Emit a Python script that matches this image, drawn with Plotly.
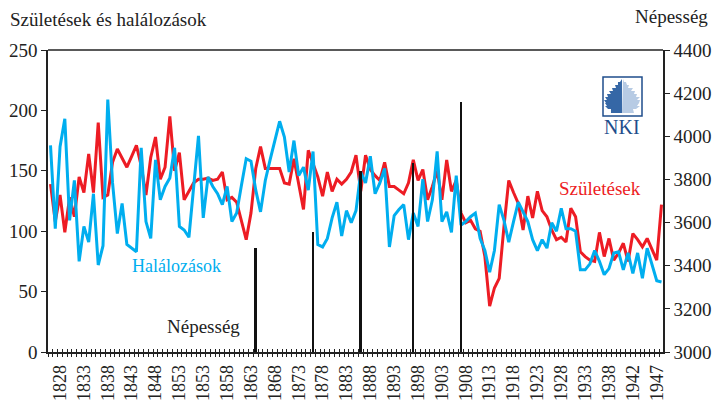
import plotly.graph_objects as go

# ---- data ----
SZULETESEK = [
    139, 108, 130, 99, 128, 112, 145, 132, 164, 132,
    190, 128, 130, 157, 168, 161, 153, 162, 171, 154,
    130, 161, 178, 143, 153, 195, 150, 165, 126, 133,
    140, 143, 143, 144, 142, 143, 149, 126, 128, 124,
    108, 93, 115, 152, 170, 152, 152, 152, 152, 140,
    139, 160, 140, 118, 167, 156, 145, 129, 149, 133,
    143, 139, 143, 149, 163, 133, 163, 151, 146, 142,
    157, 137, 137, 134, 131, 140, 159, 142, 151, 126,
    137, 150, 126, 159, 133, 142, 115, 107, 109, 102,
    100, 79, 38, 53, 61, 104, 142, 132, 123, 101,
    129, 111, 133, 117, 112, 101, 93, 95, 91, 119,
    112, 83, 79, 76, 75, 99, 79, 94, 76, 82,
    90, 75, 98, 93, 87, 94, 85, 76, 122,
]
HALALOZASOK = [
    171, 102, 170, 193, 109, 142, 75, 104, 91, 131,
    72, 88, 209, 140, 98, 123, 89, 86, 83, 169,
    108, 94, 159, 126, 137, 144, 169, 104, 101, 95,
    135, 179, 111, 145, 137, 131, 122, 137, 108, 115,
    138, 160, 158, 134, 116, 142, 159, 175, 191, 178,
    149, 175, 146, 153, 134, 166, 89, 87, 94, 111,
    124, 96, 117, 107, 117, 149, 140, 162, 131, 140,
    152, 87, 113, 118, 122, 93, 115, 104, 143, 108,
    126, 166, 108, 116, 99, 146, 105, 108, 112, 115,
    94, 84, 66, 84, 122, 109, 91, 108, 124, 116,
    108, 93, 84, 93, 86, 107, 100, 119, 102, 102,
    100, 68, 68, 73, 84, 75, 64, 69, 82, 83,
    68, 82, 65, 82, 61, 86, 72, 59, 58,
]
TICK_LABELS = [
    "1828", "1833", "1838", "1843", "1848", "1853", "1853", "1858", "1863",
    "1868", "1873", "1878", "1883", "1888", "1893", "1898", "1903", "1908",
    "1913", "1918", "1923", "1928", "1933", "1938", "1942", "1947",
]
NEPESSEG_POS = [43, 55, 65, 76, 86]
NEPESSEG = [3483, 3556, 3841, 3874, 4159]

# ---- styling ----
RED = "#ED1C24"
CYAN = "#00AEEF"
INK = "#222222"
FONT = "Liberation Serif"
NAVY = "#1F4E8C"

n = len(SZULETESEK)
xs = list(range(n))
tickvals = [2 + 5 * k for k in range(len(TICK_LABELS))]
bounds = [i - 0.5 for i in range(n + 1)]

L, R, T, B = 48, 663, 50, 352
step = (661.5 - 50.5) / (n - 1)
x_range = [-(50.5 - L) / step, (R - 50.5) / step]


def px(v):
    return (v - L) / (R - L)


def py(v):
    return (B - v) / (B - T)


fig = go.Figure()
fig.add_trace(go.Scatter(x=xs, y=SZULETESEK, mode="lines", name="Születések",
                         line=dict(color=RED, width=3), hoverinfo="skip"))
fig.add_trace(go.Scatter(x=xs, y=HALALOZASOK, mode="lines", name="Halálozások",
                         line=dict(color=CYAN, width=3), hoverinfo="skip"))
# helper trace so the overlaid tick axis is drawn
fig.add_trace(go.Scatter(x=xs, y=SZULETESEK, xaxis="x2", mode="lines",
                         opacity=0, showlegend=False, hoverinfo="skip"))
fig.add_trace(go.Bar(x=NEPESSEG_POS, y=NEPESSEG, yaxis="y2", width=0.38,
                     name="Népesség", marker=dict(color="#111111", line=dict(width=0)),
                     hoverinfo="skip"))

axis_font = dict(family=FONT, size=19, color=INK)

fig.update_layout(
    width=717, height=401, autosize=False,
    margin=dict(l=L, r=717 - R, t=T, b=401 - B, pad=0),
    paper_bgcolor="white", plot_bgcolor="white",
    showlegend=False, hovermode=False, bargap=0,
    font=dict(family=FONT, size=19, color=INK),
    xaxis=dict(
        range=x_range, showgrid=False, zeroline=False, automargin=False,
        showline=True, linecolor=INK, linewidth=1.5,
        tickmode="array", tickvals=tickvals, ticktext=TICK_LABELS,
        tickangle=-90, ticks="outside", ticklen=4, tickcolor="rgba(0,0,0,0)",
        tickfont=dict(family=FONT, size=18, color=INK),
        minor=dict(tickmode="array", tickvals=bounds, ticks="outside",
                   ticklen=3, tickcolor=INK, tickwidth=1, showgrid=False),
    ),
    xaxis2=dict(
        range=x_range, overlaying="x", anchor="y", side="bottom", automargin=False,
        showgrid=False, zeroline=False, showline=False,
        tickmode="array", tickvals=bounds, ticks="inside", ticklen=3,
        tickcolor=INK, tickwidth=1, showticklabels=False,
    ),
    yaxis=dict(
        range=[0, 250], tickmode="array", tickvals=[0, 50, 100, 150, 200, 250],
        showgrid=False, zeroline=False, showline=True, linecolor=INK, linewidth=1.5,
        ticks="outside", ticklen=5, tickcolor=INK, tickfont=axis_font, automargin=False,
    ),
    yaxis2=dict(
        range=[3000, 4400], overlaying="y", side="right", anchor="x",
        tickmode="linear", tick0=3000, dtick=200, automargin=False,
        showgrid=False, zeroline=False, showline=True, linecolor=INK, linewidth=1.5,
        ticks="outside", ticklen=5, tickcolor=INK, tickfont=axis_font,
    ),
)

# top frame line
fig.add_shape(type="line", xref="paper", yref="paper", x0=0, x1=1, y0=1, y1=1,
              line=dict(color=INK, width=1.5))

# axis titles and series labels
fig.add_annotation(text="Születések és halálozások", xref="paper", yref="paper",
                   x=px(8), y=py(19), xanchor="left", yanchor="middle",
                   showarrow=False, font=dict(family=FONT, size=19, color=INK))
fig.add_annotation(text="Népesség", xref="paper", yref="paper",
                   x=px(710), y=py(16), xanchor="right", yanchor="middle",
                   showarrow=False, font=dict(family=FONT, size=19, color=INK))
fig.add_annotation(text="Halálozások", xref="paper", yref="paper",
                   x=px(176), y=py(266), xanchor="center", yanchor="middle",
                   showarrow=False, font=dict(family=FONT, size=18, color=CYAN))
fig.add_annotation(text="Születések", xref="paper", yref="paper",
                   x=px(600), y=py(188), xanchor="center", yanchor="middle",
                   showarrow=False, font=dict(family=FONT, size=19, color=RED))
fig.add_annotation(text="Népesség", xref="paper", yref="paper",
                   x=px(203), y=py(326), xanchor="center", yanchor="middle",
                   showarrow=False, font=dict(family=FONT, size=19, color=INK))

# NKI logo (decoration)
fig.add_shape(type="rect", xref="paper", yref="paper",
              x0=px(603), x1=px(642), y0=py(116), y1=py(77),
              line=dict(color=NAVY, width=1.5), fillcolor="white")
left_pts = [(622, 79), (620, 82), (618, 82), (618, 85), (615, 85), (616, 88), (612, 88),
            (613, 91), (609, 91), (611, 94), (607, 94), (608, 97), (605, 97), (607, 100),
            (604, 100), (606, 103), (605, 103), (607, 106), (605, 106), (608, 109),
            (611, 109), (611, 113), (622, 113)]
right_pts = [(2 * 622 - a + (1 if i % 3 == 0 else 0), b) for i, (a, b) in enumerate(left_pts)]


def path_of(pts):
    return "M " + " L ".join(f"{px(a):.4f},{py(b):.4f}" for a, b in pts) + " Z"


fig.add_shape(type="path", xref="paper", yref="paper", path=path_of(left_pts),
              fillcolor="#3567A6", line=dict(width=0))
fig.add_shape(type="path", xref="paper", yref="paper", path=path_of(right_pts),
              fillcolor="#B7CBE4", line=dict(width=0))
fig.add_annotation(text="NKI", xref="paper", yref="paper", x=px(622), y=py(127),
                   xanchor="center", yanchor="middle", showarrow=False,
                   font=dict(family=FONT, size=20, color=NAVY))

fig.write_html(
    "out.html",
    config={"displayModeBar": False},
    post_script="document.body.style.margin='0px';document.body.style.overflow='hidden';",
)
